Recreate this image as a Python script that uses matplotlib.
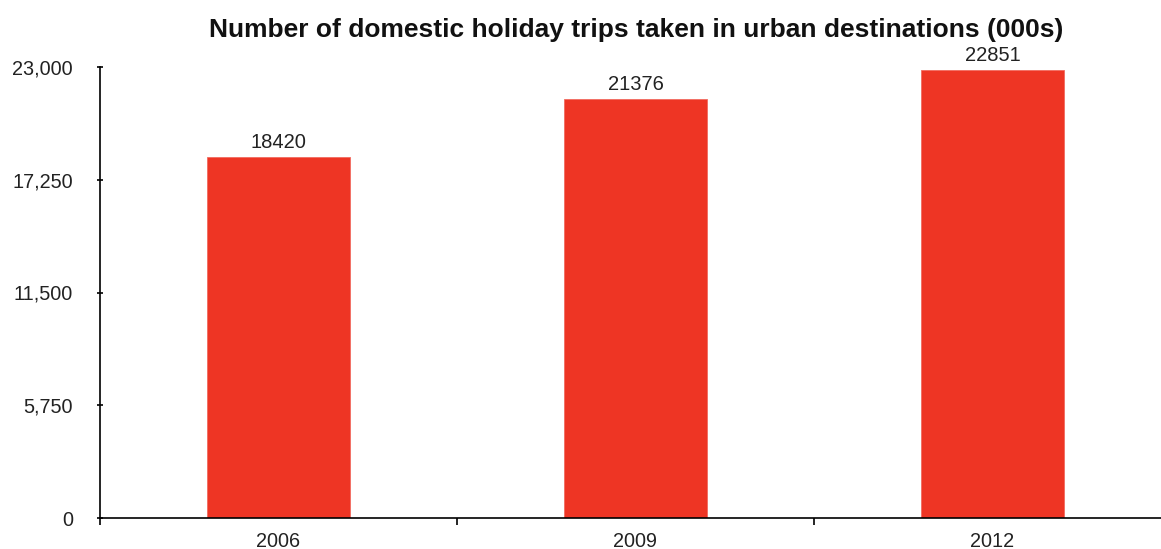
import numpy as np
import matplotlib
matplotlib.use('Agg')
from matplotlib import pyplot as plt

plt.rcParams['font.family'] = ['Liberation Sans', 'DejaVu Sans']

years = ['2006', '2009', '2012']
trips = [18420, 21376, 22851]
yticks = [0, 5750, 11500, 17250, 23000]

fig = plt.figure(figsize=(11.61, 5.49), dpi=100)
ax = fig.add_axes([100 / 1161, 31 / 549, 1071 / 1161, 451 / 549])

x = np.arange(len(years))
ax.bar(x, trips, width=0.4, color='#EE3524', edgecolor='#F26B5F', linewidth=0.6)
for xi, v in zip(x, trips):
    ax.text(xi, v + 250, str(v), ha='center', va='bottom', fontsize=14.5, color='#222222')

ax.set_xlim(-0.5, len(years) - 0.5)
ax.set_ylim(0, 23000)
ax.set_yticks(yticks)
ax.set_yticklabels(['{:,}'.format(t) for t in yticks])
ax.set_xticks(x)
ax.set_xticklabels(years)
ax.set_xticks(np.arange(len(years) + 1) - 0.5, minor=True)
ax.tick_params(axis='x', which='major', length=0, pad=10, labelsize=14.3, labelcolor='#222222')
ax.tick_params(axis='x', which='minor', length=5, width=1.2, direction='out')
ax.tick_params(axis='y', length=5, width=1.2, direction='inout', pad=17, labelsize=14.3, labelcolor='#222222')
for s in ['top', 'right']:
    ax.spines[s].set_visible(False)
ax.spines['left'].set_linewidth(1.2)
ax.spines['bottom'].set_linewidth(1.2)

fig.text(636 / 1161, 1 - 30 / 549, 'Number of domestic holiday trips taken in urban destinations (000s)',
         ha='center', va='center', fontsize=19, fontweight='bold', color='#111111')

fig.savefig('out.png', dpi=100)
